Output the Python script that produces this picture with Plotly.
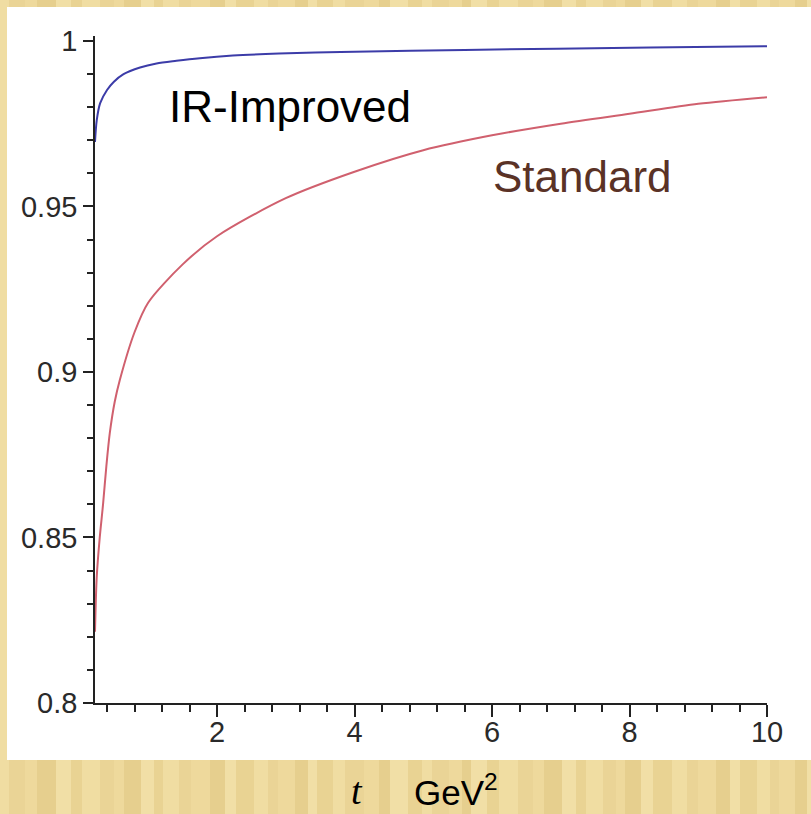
import plotly.graph_objects as go

# Data
t_ir = [0.225, 0.25, 0.30, 0.40, 0.50, 0.64, 0.88, 1.12, 1.41, 1.75, 2.23, 2.9, 3.8, 5.6, 8.3, 10.0]
ir_improved = [0.9695, 0.9760, 0.9812, 0.9852, 0.9877, 0.9900, 0.9920, 0.9932, 0.9940, 0.9948,
               0.9956, 0.9962, 0.9967, 0.9973, 0.9980, 0.9984]

t_std = [0.225, 0.25, 0.294, 0.342, 0.39, 0.44, 0.512, 0.585, 0.8, 1.0, 1.5, 2.0, 3.0, 4.0,
         5.0, 6.0, 7.0, 8.0, 9.0, 10.0]
standard = [0.8215, 0.838, 0.8500, 0.8600, 0.8715, 0.8815, 0.8910, 0.8975, 0.912, 0.921, 0.9325,
            0.941, 0.9525, 0.9605, 0.967, 0.9715, 0.975, 0.978, 0.981, 0.983]

x_ticks = [2, 4, 6, 8, 10]
y_ticks = [0.8, 0.85, 0.9, 0.95, 1.0]
y_ticktext = ["0.8", "0.85", "0.9", "0.95", "1"]

W, H = 811, 814
L, R, T, B = 95, 44, 36, 111

fig = go.Figure()
fig.add_trace(go.Scatter(x=t_ir, y=ir_improved, mode="lines",
                         line=dict(color="#3c3ca8", width=2, shape="spline", smoothing=0.8),
                         showlegend=False))
fig.add_trace(go.Scatter(x=t_std, y=standard, mode="lines",
                         line=dict(color="#d0606e", width=2, shape="spline", smoothing=0.8),
                         showlegend=False))

pw, ph = W - L - R, H - T - B
def px_x(p):
    return (p - L) / pw
def px_y(p):
    return (H - B - p) / ph

# decorative softly striped yellow page
stripe_cols = ["#f0dda2", "#ead496", "#eed99c", "#e6cf8e", "#f1dfa6", "#e9d393"]
sx = 0
i = 0
while sx < W:
    w = 9 + (i * 7) % 11
    fig.add_shape(type="rect", xref="paper", yref="paper",
                  x0=px_x(sx), x1=px_x(sx + w), y0=px_y(H), y1=px_y(0),
                  fillcolor=stripe_cols[i % len(stripe_cols)], line=dict(width=0), layer="below")
    sx += w
    i += 1

# white panel on the yellow page
fig.add_shape(type="rect", xref="paper", yref="paper",
              x0=px_x(7), x1=px_x(811), y0=px_y(760), y1=px_y(7),
              fillcolor="white", line=dict(width=0), layer="below")

tickfont = dict(family="Liberation Sans, Arial, sans-serif", size=29, color="#2a2a2a")
fig.update_xaxes(range=[0.225, 10], showgrid=False, zeroline=False, showline=True,
                 linecolor="#222", linewidth=1.5, ticks="outside", ticklen=12, tickwidth=1.5,
                 tickcolor="#222", tickvals=x_ticks, tickfont=tickfont, automargin=False,
                 ticklabelstandoff=-10,
                 minor=dict(ticks="outside", dtick=0.4, tick0=0, ticklen=7, tickwidth=1.5,
                            tickcolor="#222"))
fig.update_yaxes(range=[0.8, 1.0015], showgrid=False, zeroline=False, showline=True,
                 linecolor="#222", linewidth=1.5, ticks="outside", ticklen=10, tickwidth=1.5,
                 tickcolor="#222", tickvals=y_ticks, ticktext=y_ticktext, tickfont=tickfont,
                 automargin=False,
                 minor=dict(ticks="outside", dtick=0.01, tick0=0.8, ticklen=6, tickwidth=1.5,
                            tickcolor="#222"))

fig.add_annotation(x=3.06, y=0.9803, text="IR-Improved", showarrow=False,
                   font=dict(family="Liberation Sans, Arial, sans-serif", size=44, color="black"))
fig.add_annotation(x=7.31, y=0.9591, text="Standard", showarrow=False,
                   font=dict(family="Liberation Sans, Arial, sans-serif", size=44, color="#5a3226"))
fig.add_annotation(xref="paper", yref="paper", x=px_x(357), y=px_y(814), yanchor="bottom",
                   text="<i>t</i>", showarrow=False,
                   font=dict(family="Liberation Serif, Times New Roman, serif", size=38, color="black"))
fig.add_annotation(xref="paper", yref="paper", x=px_x(456), y=px_y(814), yanchor="bottom",
                   text="GeV<sup>2</sup>", showarrow=False,
                   font=dict(family="Liberation Sans, Arial, sans-serif", size=35, color="black"))

fig.update_layout(width=W, height=H, margin=dict(l=L, r=R, t=T, b=B, autoexpand=False),
                  paper_bgcolor="#ecd696", plot_bgcolor="white")

fig.write_html("out.html")
